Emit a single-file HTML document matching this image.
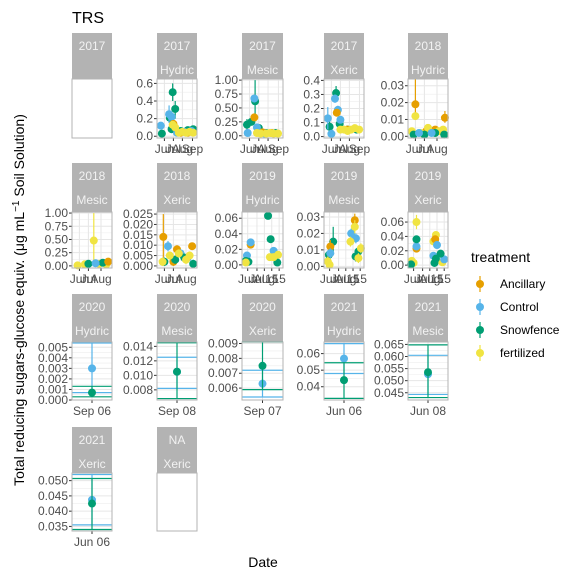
<!DOCTYPE html>
<html><head><meta charset="utf-8">
<style>
body{margin:0;background:#fff;}
svg{display:block;font-family:"Liberation Sans",Arial,sans-serif;}
</style></head>
<body>
<svg id="chart" width="576" height="576">
<text x="72" y="23" font-size="16" fill="#000">TRS</text>
<text x="263" y="567" font-size="14" text-anchor="middle" fill="#000">Date</text>
<text transform="translate(24,300) rotate(-90)" font-size="14" text-anchor="middle" fill="#000">Total reducing sugars-glucose equiv. (μg mL<tspan dy="-5" font-size="10">−1</tspan><tspan dy="5"> Soil Solution)</tspan></text>
<g id="panels"></g>
<g id="legend"></g>
</svg>
<script>
const treatments = ["Ancillary","Control","Snowfence","fertilized"];
const colors = ["#E69F00","#56B4E9","#009E73","#F0E442"];
// panel labels
const panelYears = ["2017","2017","2017","2017","2018","2018","2018","2019","2019","2019","2020","2020","2020","2021","2021","2021","NA"];
const panelSites = ["","Hydric","Mesic","Xeric","Hydric","Mesic","Xeric","Hydric","Mesic","Xeric","Hydric","Mesic","Xeric","Hydric","Mesic","Xeric","Xeric"];
const yDomains = [null,[-0.02,0.65],[-0.04,1.02],[-0.01,0.41],[-0.001,0.034],[-0.04,1.02],[-0.001,0.026],[-0.004,0.068],[-0.001,0.033],[-0.004,0.074],[0,0.0055],[0.0066,0.0146],[0.0052,0.0091],[0.032,0.067],[0.042,0.066],[0.0335,0.0525],null];
const yTicks = [[],[0,0.2,0.4,0.6],[0,0.25,0.5,0.75,1],[0,0.1,0.2,0.3,0.4],[0,0.01,0.02,0.03],[0,0.25,0.5,0.75,1],[0,0.005,0.01,0.015,0.02,0.025],[0,0.02,0.04,0.06],[0,0.01,0.02,0.03],[0,0.02,0.04,0.06],[0,0.001,0.002,0.003,0.004,0.005],[0.008,0.01,0.012,0.014],[0.006,0.007,0.008,0.009],[0.04,0.05,0.06],[0.045,0.05,0.055,0.06,0.065],[0.035,0.04,0.045,0.05]];
const yLabels = [[],["0.0","0.2","0.4","0.6"],["0.00","0.25","0.50","0.75","1.00"],["0.0","0.1","0.2","0.3","0.4"],["0.00","0.01","0.02","0.03"],["0.00","0.25","0.50","0.75","1.00"],["0.000","0.005","0.010","0.015","0.020","0.025"],["0.00","0.02","0.04","0.06"],["0.00","0.01","0.02","0.03"],["0.00","0.02","0.04","0.06"],["0.000","0.001","0.002","0.003","0.004","0.005"],["0.008","0.010","0.012","0.014"],["0.006","0.007","0.008","0.009"],["0.04","0.05","0.06"],["0.045","0.050","0.055","0.060","0.065"],["0.035","0.040","0.045","0.050"]];
const xTickPos = [[],[15,40,65,93],[15,40,65,93],[15,40,65,93],[15,40,75],[15,40,75],[15,40,75],[10,35,55,75,95],[10,35,55,75,95],[10,35,55,75,95],[50],[50],[50],[50],[50],[50],[]];
const xTickLabels = [[],["Jun","Jul","Aug","Sep"],["Jun","Jul","Aug","Sep"],["Jun","Jul","Aug","Sep"],["Jun","Jul","Aug"],["Jun","Jul","Aug"],["Jun","Jul","Aug"],["Jun","Jul","Aug","15","15"],["Jun","Jul","Aug","15","15"],["Jun","Jul","Aug","15","15"],["Sep 06"],["Sep 08"],["Sep 07"],["Jun 06"],["Jun 08"],["Jun 06"],[]];
// data per panel: [treatmentIndex, day(0-100), value, low, high]
const panelData = [
 [],
 [[2,8,0.03,0.0,0.06],[2,30,0.21,0.15,0.27],[2,38,0.5,0.4,0.6],[2,45,0.31,0.2,0.4],[2,35,0.08,0.05,0.11],[2,60,0.06,0.04,0.08],[2,80,0.07,0.05,0.09],[2,95,0.08,0.06,0.1],
  [1,5,0.12,0.09,0.15],[1,28,0.25,0.15,0.35],[1,35,0.22,0.18,0.26],[1,50,0.04,0.03,0.05],[1,70,0.05,0.04,0.06],[1,90,0.06,0.05,0.07],
  [0,40,0.14,0.1,0.18],[0,60,0.04,0.03,0.05],[0,80,0.04,0.03,0.05],
  [3,38,0.13,0.1,0.16],[3,45,0.1,0.08,0.12],[3,55,0.04,0.03,0.05],[3,65,0.05,0.04,0.06],[3,75,0.04,0.03,0.05],[3,85,0.05,0.04,0.06],[3,95,0.04,0.03,0.05]],
 [[2,8,0.2,0.1,0.3],[2,20,0.25,0.2,0.3],[2,30,0.62,0.3,1.0],[2,40,0.14,0.1,0.18],[2,60,0.05,0.03,0.07],[2,85,0.05,0.03,0.07],
  [1,10,0.05,0.0,0.1],[1,28,0.67,0.6,0.74],[1,35,0.15,0.1,0.2],[1,55,0.04,0.02,0.06],
  [0,28,0.33,0.28,0.38],[0,50,0.06,0.04,0.08],[0,75,0.05,0.03,0.07],
  [3,35,0.05,0.03,0.07],[3,45,0.04,0.02,0.06],[3,60,0.04,0.02,0.06],[3,70,0.05,0.03,0.07],[3,80,0.04,0.02,0.06],[3,92,0.04,0.02,0.06]],
 [[2,10,0.07,0.03,0.11],[2,28,0.31,0.26,0.36],[2,38,0.09,0.07,0.11],[2,60,0.05,0.03,0.07],[2,85,0.05,0.03,0.07],
  [1,5,0.13,0.05,0.21],[1,25,0.27,0.24,0.3],[1,33,0.19,0.16,0.22],[1,40,0.12,0.1,0.14],[1,15,0.02,0.0,0.04],
  [0,30,0.17,0.15,0.19],[0,60,0.05,0.04,0.06],
  [3,40,0.05,0.03,0.07],[3,50,0.05,0.03,0.07],[3,60,0.04,0.03,0.05],[3,70,0.05,0.04,0.06],[3,80,0.06,0.05,0.07],[3,92,0.05,0.04,0.06]],
 [[0,15,0.019,0.01,0.034],[0,45,0.003,0.001,0.005],[0,70,0.004,0.002,0.006],[0,97,0.011,0.008,0.015],
  [3,15,0.012,0.01,0.014],[3,5,0.003,0.001,0.005],[3,30,0.002,0.001,0.003],[3,50,0.005,0.003,0.007],[3,80,0.003,0.002,0.004],[3,92,0.004,0.002,0.006],
  [2,10,0.001,0.0,0.002],[2,40,0.001,0.0,0.002],[2,70,0.002,0.001,0.003],[2,95,0.001,0.0,0.002],
  [1,25,0.002,0.001,0.003],[1,60,0.002,0.001,0.003]],
 [[3,55,0.48,0.0,1.0],[3,10,0.01,0.0,0.03],[3,30,0.03,0.0,0.06],[3,70,0.04,0.0,0.08],[3,90,0.03,0.0,0.06],
  [2,40,0.04,0.02,0.06],[2,80,0.06,0.03,0.09],[0,95,0.08,0.04,0.12],[1,60,0.05,0.02,0.08]],
 [[0,12,0.014,0.004,0.025],[0,50,0.008,0.006,0.01],[0,92,0.0095,0.008,0.011],[0,40,0.002,0.0,0.004],
  [1,25,0.0095,0.007,0.012],[1,60,0.006,0.004,0.008],[1,80,0.004,0.002,0.006],
  [2,15,0.002,0.0,0.004],[2,45,0.003,0.001,0.005],[2,70,0.004,0.002,0.006],[2,95,0.001,0.0,0.003],
  [3,10,0.002,0.0,0.004],[3,30,0.005,0.003,0.007],[3,55,0.006,0.004,0.008],[3,75,0.003,0.001,0.005],[3,85,0.005,0.003,0.007]],
 [[0,18,0.026,0.022,0.03],[1,18,0.029,0.025,0.033],[1,8,0.012,0.009,0.015],[1,80,0.018,0.014,0.022],
  [2,65,0.063,0.06,0.066],[2,72,0.033,0.03,0.036],[2,5,0.005,0.002,0.008],[2,12,0.004,0.001,0.007],[2,90,0.003,0.0,0.006],
  [3,5,0.003,0.0,0.006],[3,70,0.01,0.006,0.014],[3,80,0.01,0.006,0.014],[3,92,0.013,0.009,0.017]],
 [[2,20,0.015,0.008,0.024],[2,8,0.007,0.003,0.011],[2,82,0.006,0.003,0.009],[2,90,0.009,0.006,0.012],
  [0,12,0.012,0.008,0.016],[0,80,0.028,0.025,0.032],[1,12,0.008,0.005,0.011],[1,70,0.02,0.017,0.023],[1,83,0.017,0.014,0.02],
  [3,5,0.003,0.0,0.006],[3,10,0.001,0.0,0.003],[3,68,0.015,0.012,0.018],[3,80,0.024,0.02,0.028],[3,90,0.005,0.002,0.008],[3,97,0.011,0.008,0.014]],
 [[3,18,0.06,0.05,0.07],[3,5,0.006,0.002,0.01],[3,10,0.003,0.0,0.006],[3,65,0.033,0.028,0.038],[3,72,0.042,0.038,0.046],[3,90,0.004,0.0,0.008],
  [0,18,0.023,0.018,0.028],[0,70,0.036,0.032,0.04],[1,18,0.026,0.022,0.03],[1,75,0.028,0.024,0.032],[1,65,0.013,0.01,0.016],[1,95,0.008,0.004,0.012],
  [2,18,0.036,0.032,0.04],[2,68,0.003,0.0,0.006],[2,72,0.009,0.006,0.012],[2,85,0.016,0.012,0.02],[2,3,0.001,0.0,0.003]],
 [[1,50,0.003,0.0007,0.0054],[2,50,0.0007,0.0003,0.0013]],
 [[1,50,0.0105,0.0082,0.0125],[2,50,0.0105,0.0068,0.0145]],
 [[1,50,0.0063,0.0054,0.0072],[2,50,0.0075,0.0059,0.0091]],
 [[1,50,0.057,0.048,0.066],[2,50,0.044,0.033,0.0545]],
 [[1,50,0.0527,0.0443,0.0605],[2,50,0.0535,0.043,0.0648]],
 [[1,50,0.0437,0.0355,0.052],[2,50,0.0425,0.034,0.0507]],
 []
];
const colX = [[72,112],[157,197],[242,283],[324,364],[408,448]];
const rowY = [[33,79,138],[163,212,268],[294,342,400],[427,473,531]];
const NS="http://www.w3.org/2000/svg";
const root=document.getElementById("panels");
function mk(tag,attrs,parent){const e=document.createElementNS(NS,tag);for(const k in attrs)e.setAttribute(k,attrs[k]);parent.appendChild(e);return e;}
panelYears.forEach((yr,i)=>{
  const c=i%5,r=Math.floor(i/5);
  const x0=colX[c][0],x1=colX[c][1],st=rowY[r][0],pt=rowY[r][1],pb=rowY[r][2];
  const g=mk("g",{},root);
  
  
  const strip=mk("rect",{x:x0,y:st,width:x1-x0,height:pt-st,fill:"#b3b3b3"},g);
  
  
  const t1=mk("text",{x:(x0+x1)/2,y:st+17,"font-size":12,fill:"#f2f2f2","text-anchor":"middle"},g);t1.textContent=yr;
  if(panelSites[i]){const t2=mk("text",{x:(x0+x1)/2,y:st+41,"font-size":12,fill:"#f2f2f2","text-anchor":"middle"},g);t2.textContent=panelSites[i];}
  const dom=yDomains[i];
  if(dom){
    const ys=v=>pb-(v-dom[0])/(dom[1]-dom[0])*(pb-pt);
    const xs=d=>x0+2+d/100*(x1-x0-4);
    const ticks=yTicks[i];
    for(let k=0;k<ticks.length;k++){
      mk("line",{x1:x0,x2:x1,y1:ys(ticks[k]),y2:ys(ticks[k]),stroke:"#e6e6e6","stroke-width":1},g);
      if(k<ticks.length-1){const m=(ticks[k]+ticks[k+1])/2;mk("line",{x1:x0,x2:x1,y1:ys(m),y2:ys(m),stroke:"#eeeeee","stroke-width":0.6},g);}
      mk("line",{x1:x0-3,x2:x0,y1:ys(ticks[k]),y2:ys(ticks[k]),stroke:"#333"},g);
      const tl=mk("text",{x:x0-4,y:ys(ticks[k])+4,"font-size":12,fill:"#4d4d4d","text-anchor":"end"},g);tl.textContent=yLabels[i][k];
    }
    xTickPos[i].forEach((d,k)=>{
      mk("line",{x1:xs(d),x2:xs(d),y1:pt,y2:pb,stroke:"#e6e6e6"},g);
      mk("line",{x1:xs(d),x2:xs(d),y1:pb,y2:pb+3,stroke:"#333"},g);
      const xl=mk("text",{x:xs(d),y:pb+15,"font-size":12,fill:"#4d4d4d","text-anchor":"middle"},g);xl.textContent=xTickLabels[i][k];
    });
    const single=i>=10;
    panelData[i].forEach(p=>{
      const col=colors[p[0]];
      if(single){
        mk("line",{x1:x0,x2:x1,y1:ys(p[3]),y2:ys(p[3]),stroke:col,"stroke-width":1.2},g);
        mk("line",{x1:x0,x2:x1,y1:ys(p[4]),y2:ys(p[4]),stroke:col,"stroke-width":1.2},g);
      }
      mk("line",{x1:xs(p[1]),x2:xs(p[1]),y1:ys(p[3]),y2:ys(p[4]),stroke:col,"stroke-width":1.2},g);
      const pt_=mk("circle",{cx:xs(p[1]),cy:ys(p[2]),r:4,fill:col},g);
      
      
    });
  }
  mk("rect",{x:x0,y:pt,width:x1-x0,height:pb-pt,fill:"none",stroke:"#b3b3b3","stroke-width":1},g);
});
const lg=document.getElementById("legend");
const lt=mk("text",{x:471,y:262,"font-size":14,fill:"#000"},lg);lt.textContent="treatment";
treatments.forEach((t,k)=>{
  const y=284+k*23;
  const e=mk("g",{},lg);
  
  
  mk("line",{x1:480,x2:480,y1:y-8,y2:y+8,stroke:colors[k],"stroke-width":1.2},e);
  mk("circle",{cx:480,cy:y,r:4,fill:colors[k]},e);
  const tx=mk("text",{x:500,y:y+4,"font-size":12,fill:"#000"},e);tx.textContent=t;
});
</script>
</body></html>
